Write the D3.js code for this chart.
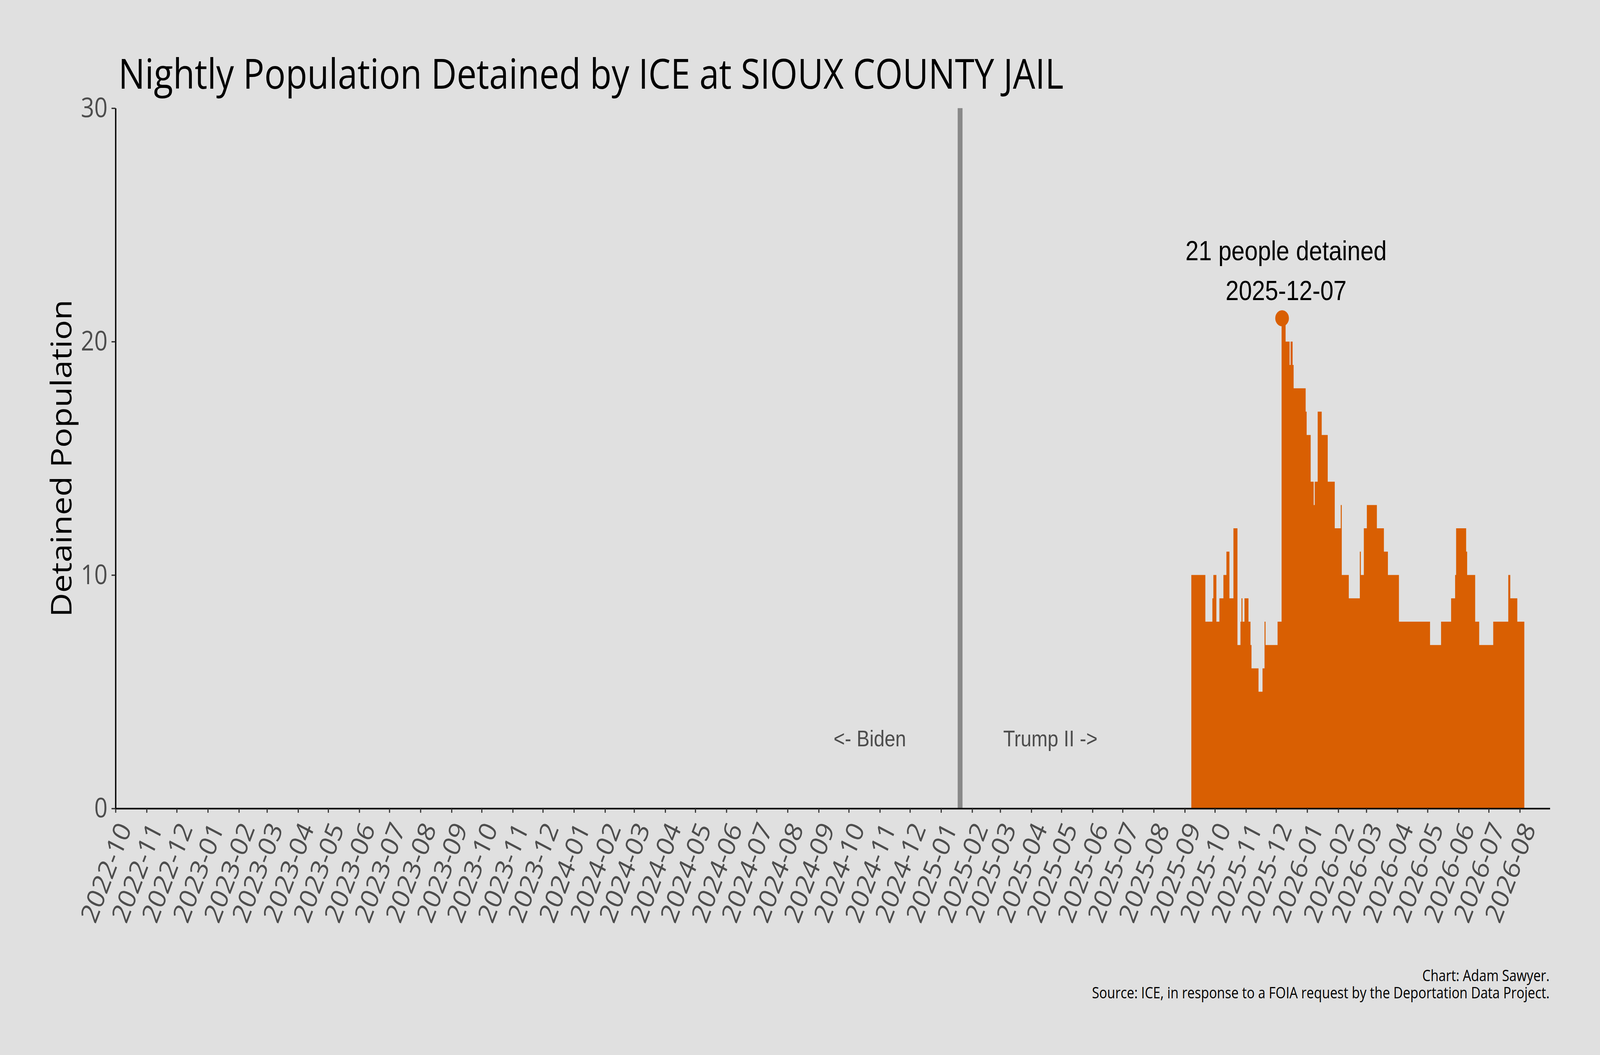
<!DOCTYPE html>
<html>
<head>
<meta charset="utf-8">
<script src="https://cdn.jsdelivr.net/npm/d3@7"></script>
<style>
  html, body { margin: 0; padding: 0; background: #e0e0e0; overflow: hidden; }
  svg { display: block; }
</style>
</head>
<body>
<svg id="chart" viewBox="0 0 4800 2700" preserveAspectRatio="none"></svg>
<script>
// ---------------- DATA ----------------
// Nightly population: each value holds from its start date until the next start date.
const segStart = [
  "2025-09-08","2025-09-22","2025-09-29","2025-09-30","2025-10-03","2025-10-06","2025-10-10",
  "2025-10-13","2025-10-16","2025-10-20","2025-10-24","2025-10-27","2025-10-28","2025-10-29",
  "2025-10-31","2025-11-04","2025-11-06","2025-11-07","2025-11-14","2025-11-18","2025-11-20",
  "2025-11-21","2025-12-03","2025-12-07","2025-12-11","2025-12-15","2025-12-16","2025-12-18",
  "2025-12-19","2025-12-31","2026-01-01","2026-01-05","2026-01-08","2026-01-09","2026-01-12",
  "2026-01-16","2026-01-22","2026-01-29","2026-02-04","2026-02-05","2026-02-12","2026-02-23",
  "2026-02-24","2026-02-27","2026-03-02","2026-03-12","2026-03-19","2026-03-23","2026-04-03",
  "2026-05-04","2026-05-15","2026-05-25","2026-05-29","2026-05-30","2026-06-09","2026-06-10",
  "2026-06-18","2026-06-22","2026-07-06","2026-07-21","2026-07-23","2026-07-30"
];
const segValue = [
  10, 8, 9, 10, 8, 9, 10,
  11, 9, 12, 7, 8, 9, 8,
  9, 8, 7, 6, 5, 6, 8,
  7, 8, 21, 20, 19, 20, 19,
  18, 17, 16, 14, 13, 14, 17,
  16, 14, 12, 13, 10, 9, 11,
  10, 12, 13, 12, 11, 10, 8,
  7, 8, 9, 10, 12, 11, 10,
  8, 7, 8, 10, 9, 8
];
const lastDate = "2026-08-05";

const peakDate = "2025-12-07";
const peakValue = 21;
const peakLabel = ["21 people detained", "2025-12-07"];

const inaugurationDate = "2025-01-20";
const eraLabels = [
  { text: "<- Biden", date: "2024-10-22", value: 3 },
  { text: "Trump II ->", date: "2025-04-20", value: 3 }
];

const xDomain = ["2022-10-01", "2026-08-31"];
const monthTickStart = "2022-10-01";
const monthTickEnd = "2026-08-02";
const yTicks = [0, 10, 20, 30];
const yDomain = [0, 30];

const titleText = "Nightly Population Detained by ICE at SIOUX COUNTY JAIL";
const yTitleText = "Detained Population";
const captionLines = [
  "Chart: Adam Sawyer.",
  "Source: ICE, in response to a FOIA request by the Deportation Data Project."
];

// ---------------- STYLE / LAYOUT ----------------
const ORANGE = "#d95f02";
const SANS = "'Open Sans', 'Noto Sans', sans-serif";
const ARIAL = "'Liberation Sans', Arial, sans-serif";
const plot = { left: 346.6, right: 4649.7, top: 276.8, bottom: 2069 };

const parse = d3.utcParse("%Y-%m-%d");
const halfDay = 12 * 3600 * 1000;

// The drawing is laid out on a 4800x2700 canvas and scaled to fill the window.
const svg = d3.select("#chart")
  .attr("width", window.innerWidth || 4800)
  .attr("height", window.innerHeight || 2700);
svg.append("rect").attr("width", 4800).attr("height", 2700).attr("fill", "#e0e0e0");

const x = d3.scaleUtc().domain(xDomain.map(parse)).range([plot.left, plot.right]);
const y = d3.scaleLinear().domain(yDomain).range([plot.bottom, plot.top]);

function fitWidth(sel, target) {
  const node = sel.node();
  const size = parseFloat(sel.attr("font-size"));
  const w = node.getComputedTextLength();
  sel.attr("font-size", size * target / w);
  return size * target / w;
}

// ---- Population (daily bars centred on each date, drawn as a step area) ----
const stepPts = segStart.map((d, i) => ({ t: new Date(parse(d).getTime() - halfDay), v: segValue[i] }));
stepPts.push({ t: new Date(parse(lastDate).getTime() + halfDay), v: segValue[segValue.length - 1] });

const area = d3.area()
  .curve(d3.curveStepAfter)
  .x(d => x(d.t))
  .y0(y(0))
  .y1(d => y(d.v));
svg.append("path").datum(stepPts).attr("d", area).attr("fill", ORANGE);

// ---- Inauguration line ----
svg.append("line")
  .attr("x1", x(parse(inaugurationDate))).attr("x2", x(parse(inaugurationDate)))
  .attr("y1", y(yDomain[0])).attr("y2", y(yDomain[1]))
  .attr("stroke", "#898989").attr("stroke-width", 14.5);

// ---- Era labels ----
svg.selectAll("text.era").data(eraLabels).join("text")
  .attr("class", "era")
  .attr("x", d => x(parse(d.date)))
  .attr("y", d => y(d.value))
  .attr("dy", "0.35em")
  .attr("text-anchor", "middle")
  .attr("font-family", ARIAL)
  .attr("font-size", 58)
  .attr("fill", "#4d4d4d")
  .text(d => d.text);

// ---- Axes ----
const months = d3.utcMonth.range(parse(monthTickStart), parse(monthTickEnd));
const xAxis = d3.axisBottom(x).tickValues(months).tickSize(11).tickSizeOuter(0)
  .tickFormat(d3.utcFormat("%Y-%m"));
const gx = svg.append("g").attr("transform", `translate(0,${plot.bottom})`).call(xAxis);
gx.select(".domain").attr("stroke", "#000").attr("stroke-width", 4);
gx.selectAll(".tick line").attr("stroke", "#333").attr("stroke-width", 3.4);
gx.selectAll(".tick text")
  .attr("x", 0).attr("y", 0).attr("dy", "0.71em")
  .attr("text-anchor", "end")
  .attr("transform", "translate(2,30) rotate(-66)")
  .attr("font-family", SANS).attr("font-size", 72).attr("fill", "#4d4d4d");

const yAxis = d3.axisLeft(y).tickValues(yTicks).tickSize(12).tickSizeOuter(0).tickPadding(12);
const gy = svg.append("g").attr("transform", `translate(${plot.left},0)`).call(yAxis);
gy.select(".domain").attr("stroke", "#000").attr("stroke-width", 4);
gy.selectAll(".tick line").attr("stroke", "#333").attr("stroke-width", 3.4);
gy.selectAll(".tick text").attr("font-family", SANS).attr("font-size", 70).attr("fill", "#4d4d4d");

// ---- Peak marker & annotation ----
const px = x(parse(peakDate)), py = y(peakValue);
svg.append("circle").attr("cx", px).attr("cy", py).attr("r", 20.5).attr("fill", ORANGE);
peakLabel.forEach((t, i) => {
  svg.append("text")
    .attr("x", px + 12)
    .attr("y", py - 148 + i * 101.7)
    .attr("text-anchor", "middle")
    .attr("font-family", ARIAL).attr("font-size", 71).attr("fill", "#000")
    .text(t);
});

// ---- Titles ----
const title = svg.append("text")
  .attr("x", 355).attr("y", 227)
  .attr("font-family", SANS).attr("font-size", 110).attr("fill", "#000")
  .text(titleText);
fitWidth(title, 2836);

const yTitle = svg.append("text")
  .attr("transform", `translate(215, ${(plot.top + plot.bottom) / 2}) rotate(-90)`)
  .attr("text-anchor", "middle")
  .attr("font-family", SANS).attr("font-size", 93).attr("fill", "#000")
  .text(yTitleText);
fitWidth(yTitle, 812);

// ---- Caption ----
const cap2 = svg.append("text")
  .attr("x", plot.right - 1).attr("y", 2554.7).attr("text-anchor", "end")
  .attr("font-family", SANS).attr("font-size", 41).attr("fill", "#000")
  .text(captionLines[1]);
const capSize = fitWidth(cap2, 1373);
svg.append("text")
  .attr("x", plot.right - 1).attr("y", 2510.7).attr("text-anchor", "end")
  .attr("font-family", SANS).attr("font-size", capSize).attr("fill", "#000")
  .text(captionLines[0]);
</script>
</body>
</html>
